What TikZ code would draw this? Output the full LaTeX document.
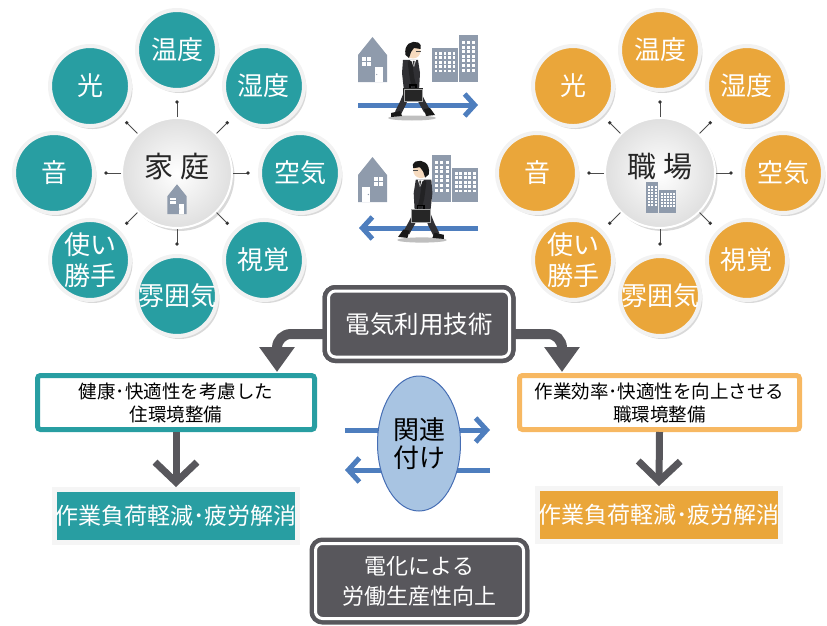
\documentclass[tikz,border=0pt]{standalone}
\usepackage{fontspec}
\setmainfont{Noto Sans CJK JP}
\usetikzlibrary{arrows.meta,shadows,shapes.geometric,calc}

\definecolor{ringteal}{RGB}{40,158,162}
\definecolor{ringorange}{RGB}{234,166,58}
\definecolor{orangeline}{RGB}{247,184,98}
\definecolor{boxgray}{RGB}{88,87,92}
\definecolor{arrowblue}{RGB}{78,126,190}
\definecolor{ellfill}{RGB}{168,196,226}
\definecolor{ellline}{RGB}{70,110,180}
\definecolor{icongray}{RGB}{143,155,172}
\definecolor{suitgray}{RGB}{48,48,52}
\definecolor{skinc}{RGB}{246,218,190}

\tikzset{
  % simple house icon, origin at the middle of its base
  house/.pic={
    \fill[icongray] (-14.5,0) -- (-14.5,-27) -- (0,-45) -- (14.5,-27) -- (14.5,0) -- cycle;
    \foreach \c in {0,1} \foreach \r in {0,1}
      \fill[white] (-10.5+\c*4.8,-25+\r*5) rectangle ++(4,4.2);
    \fill[white] (2.5,-15) rectangle (10.5,0);
    \fill[icongray] (4.2,-7.5) circle (0.7);
  },
  % two office buildings, origin at the middle of their base
  offices/.pic={
    \fill[icongray] (-23,0) rectangle (3,-34);
    \fill[icongray] (4,0) rectangle (23,-47);
    \foreach \c in {0,...,4} \foreach \r in {0,...,4}
      \fill[white] (-20.5+\c*4.5,-30+\r*4.4) rectangle ++(2.8,2.8);
    \foreach \c in {0,1,2} \foreach \r in {0,...,6}
      \fill[white] (6.5+\c*5.2,-41+\r*4.6) rectangle ++(3,3);
  },
  % businessman walking to the right, origin on the ground under him
  walker/.pic={
    \fill[gray!50] (0,0) ellipse (24 and 2.5);
    \draw[suitgray, line width=6.5pt, line join=round] (-3,-30) -- (-9,-15) -- (-14,-5);
    \draw[suitgray, line width=6.5pt, line join=round] (3,-30) -- (10,-16) -- (15,-7);
    \fill[black!90] (-21,-1) -- (-21,-5) -- (-12,-7) -- (-10,-2) -- cycle;
    \fill[black!90] (12,-9) -- (18,-10) -- (23,-3) -- (14,-2) -- cycle;
    \fill[suitgray] (-9,-58) -- (6,-58) -- (8,-45) -- (7,-27) -- (-8,-27) -- (-10,-45) -- cycle;
    \fill[white] (-2,-58) -- (4,-58) -- (2,-51) -- cycle;
    \fill[black!80] (0.8,-57) -- (2.6,-57) -- (2,-50) -- cycle;
    \fill[skinc] (1,-67) circle (7.5);
    \fill[black!90] (-6.5,-63) .. controls (-8.5,-74) and (0,-78) .. (6,-75.5)
      .. controls (9,-74) and (9.5,-71) .. (8.5,-69) -- (2,-70) -- (-1,-66) -- (-3,-60) -- cycle;
    \draw[black!70, line width=0.6pt] (4,-67) -- (8.5,-67);
    \draw[suitgray!70!black, line width=4.5pt, line cap=round] (-2,-55) -- (0,-40) -- (2,-32);
    \fill[black!85] (-9,-30) rectangle (11,-16);
    \draw[gray!70, line width=0.7pt] (-8,-29) rectangle (10,-17);
    \draw[black, line width=1.2pt] (-2,-30) -- (-2,-33) -- (4,-33) -- (4,-30);
  },
}

\begin{document}
\begin{tikzpicture}[x=1pt,y=-1pt,
  factor/.style={circle, minimum size=80pt, inner sep=0pt, draw=gray!10, line width=4pt,
    drop shadow={shadow xshift=2.5pt, shadow yshift=-3pt, opacity=0.3}},
  factortext/.style={text=white, align=center, font=\fontsize{26}{31}\selectfont},
  hub/.style={circle, minimum size=110pt, inner sep=0pt, draw=white, line width=2pt,
    inner color=white, outer color=gray!25,
    drop shadow={shadow xshift=2.5pt, shadow yshift=-3pt, opacity=0.3}},
  hubtext/.style={font=\fontsize{29}{32}\selectfont, text=black!85},
  spoke/.style={draw=black!70, line width=0.8pt},
  spokedot/.style={fill=black!80},
  framebox/.style={rectangle, rounded corners=3pt, fill=white, line width=5pt, minimum height=54pt,
    align=center, inner sep=0pt, font=\fontsize{18.5}{23}\selectfont,
    drop shadow={shadow xshift=2pt, shadow yshift=-2pt, opacity=0.25}},
  result/.style={rectangle, draw=gray!8, line width=5pt, minimum width=243pt, minimum height=53pt,
    inner sep=0pt, text=white, font=\fontsize{23}{26}\selectfont,
    drop shadow={shadow xshift=2pt, shadow yshift=-2pt, opacity=0.25}},
  darkbox/.style={rectangle, rounded corners=7pt, fill=boxgray, draw=boxgray, double=white,
    double distance=3pt, line width=4.5pt, text=white, align=center, inner sep=0pt,
    drop shadow={shadow xshift=1.5pt, shadow yshift=-2pt, opacity=0.25}},
  fatarrow/.style={draw=boxgray, line width=10pt, rounded corners=14pt,
    -{Triangle[length=25pt,width=34pt]}},
  chevron/.style={draw=boxgray, line width=7pt, -{Straight Barb[length=20pt,width=42pt]}},
  bluearrow/.style={draw=arrowblue, line width=5pt, -{Straight Barb[length=10pt,width=22pt]}},
]
\useasboundingbox (0,0) rectangle (827,626);

% ---------- home cluster ----------
\node[hub] (home) at (177,173) {};
\foreach \a/\t [count=\i] in {90/温度,45/湿度,0/空気,-45/視覚,-90/雰囲気,-135/{使い\\勝手},180/音,135/光}{
  \coordinate (hd\i) at ($(home)+(\a:71pt)$);
  \draw[spoke] (home.\a) -- (hd\i);
  \fill[spokedot] (hd\i) circle (1.9);
  \node[factor, fill=ringteal] (hf\i) at ($(home)+(\a:123pt)$) {};
  \node[factortext] (ht\i) at (hf\i) {\t};
}
\node[hubtext] (hometext) at (177,167) {家 庭};
\pic[scale=0.66] at (177,214) {house};

% ---------- workplace cluster ----------
\node[hub] (work) at (660,173) {};
\foreach \a/\t [count=\i] in {90/温度,45/湿度,0/空気,-45/視覚,-90/雰囲気,-135/{使い\\勝手},180/音,135/光}{
  \coordinate (wd\i) at ($(work)+(\a:71pt)$);
  \draw[spoke] (work.\a) -- (wd\i);
  \fill[spokedot] (wd\i) circle (1.9);
  \node[factor, fill=ringorange] (wf\i) at ($(work)+(\a:123pt)$) {};
  \node[factortext] (wt\i) at (wf\i) {\t};
}
\node[hubtext] (worktext) at (660,167) {職 場};
\pic[scale=0.67, xscale=-1] at (661,213) {offices};

% ---------- commuting ----------
\coordinate (goS) at (358,105);
\coordinate (goE) at (478,105);
\coordinate (backS) at (478,228);
\coordinate (backE) at (359,228);
\pic at (372.5,82) {house};
\pic at (455,82) {offices};
\draw[bluearrow] (goS) -- (goE);
\pic at (412,118) {walker};
\pic[xscale=-1] at (372.5,202) {house};
\pic[xscale=-1] at (455,202) {offices};
\draw[bluearrow] (backS) -- (backE);
\pic[xscale=-1, scale=1.04] at (422,240) {walker};

% ---------- technology and its two branches ----------
\coordinate (ltip) at (277,372);
\coordinate (rtip) at (562,372);
\node[darkbox, minimum width=181pt, minimum height=66pt, font=\fontsize{24.5}{28}\selectfont] (tech) at (419,324) {};
\draw[fatarrow] ([yshift=-10pt]tech.west) -| (ltip);
\draw[fatarrow] ([yshift=-10pt]tech.east) -| (rtip);
\node[darkbox, minimum width=181pt, minimum height=66pt, font=\fontsize{24.5}{28}\selectfont] (techtop) at (tech) {電気利用技術};

\node[framebox, draw=ringteal, minimum width=277pt] (lbox) at (176,402.5) {健康･快適性を考慮した\\住環境整備};
\node[framebox, draw=orangeline, minimum width=280pt] (rbox) at (659.5,402.5) {作業効率･快適性を向上させる\\職環境整備};

\node[result, fill=ringteal] (lres) at (176,516) {作業負荷軽減･疲労解消};
\node[result, fill=ringorange] (rres) at (659,515) {作業負荷軽減･疲労解消};
\draw[chevron] (lbox.south) -- (lres.north);
\draw[chevron] (rbox.south) -- (rres.north);

% ---------- linking ----------
\coordinate (l1s) at (345,430);
\coordinate (l1e) at (490,430);
\coordinate (l2s) at (490,470);
\coordinate (l2e) at (345,470);
\draw[bluearrow, -{Straight Barb[length=11pt,width=24pt]}] (l1s) -- (l1e);
\draw[bluearrow, -{Straight Barb[length=11pt,width=24pt]}] (l2s) -- (l2e);
\node[ellipse, minimum width=78pt, minimum height=135pt, fill=ellfill, draw=ellline, line width=1pt,
  align=center, font=\fontsize{26}{28}\selectfont] (rel) at (419,443.5) {関連\\付け};

% ---------- outcome ----------
\node[darkbox, minimum width=208pt, minimum height=75pt, font=\fontsize{22}{30}\selectfont] (impact) at (419.5,581) {電化による\\労働生産性向上};
\end{tikzpicture}
\end{document}
